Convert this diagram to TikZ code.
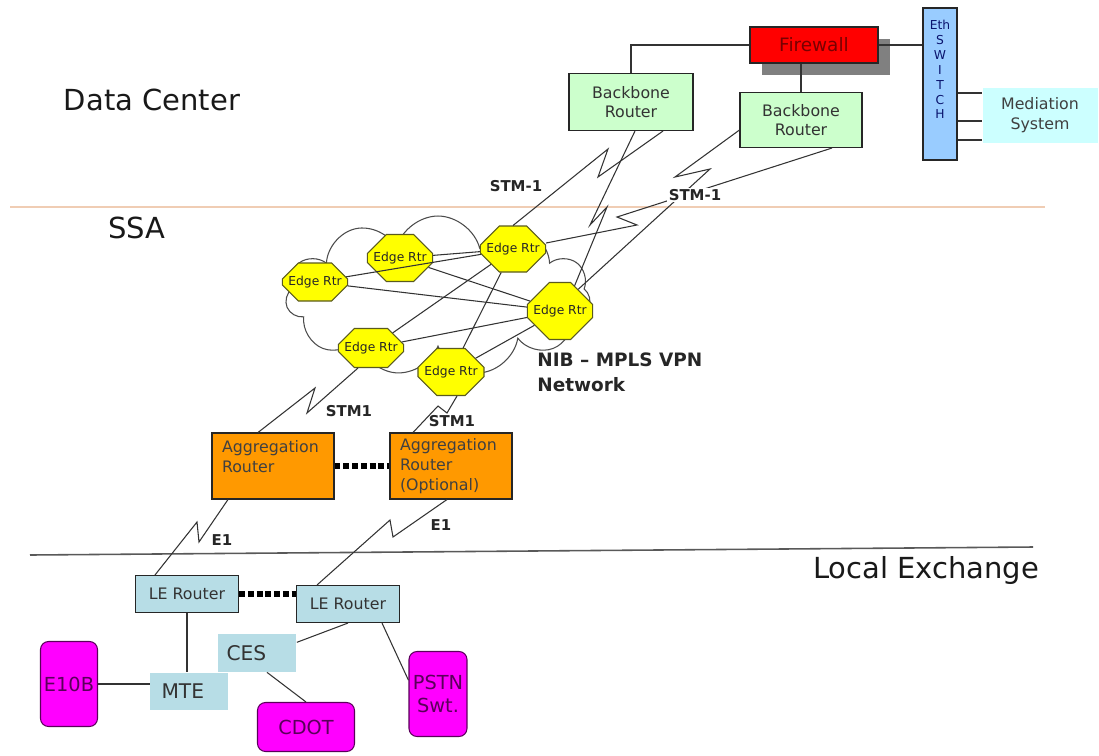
\documentclass[tikz,border=0pt]{standalone}
\usepackage{fontspec}
\setmainfont{DejaVu Sans}
\usepackage{tikz}
\usetikzlibrary{shapes.misc,shapes.symbols,shadows,calc,positioning}

\definecolor{bbgreen}{RGB}{204,255,204}
\definecolor{fwred}{RGB}{255,0,0}
\definecolor{fwtext}{RGB}{120,0,0}
\definecolor{swblue}{RGB}{153,204,255}
\definecolor{swtext}{RGB}{10,20,110}
\definecolor{medcyan}{RGB}{204,255,255}
\definecolor{rtryellow}{RGB}{255,255,0}
\definecolor{rtrborder}{RGB}{90,90,30}
\definecolor{aggorange}{RGB}{255,153,0}
\definecolor{leblue}{RGB}{183,221,230}
\definecolor{exmagenta}{RGB}{255,0,255}
\definecolor{extext}{RGB}{90,0,90}
\definecolor{sepline}{RGB}{240,205,180}

\tikzset{
  link/.style={draw=black!80, line width=0.6pt},
  box/.style={draw=black!85, line width=0.6pt, inner sep=0pt, align=center, text=black!80},
  bbrouter/.style={box, fill=bbgreen, font=\fontsize{9}{11}\selectfont},
  edgertr/.style={chamfered rectangle, chamfered rectangle xsep=#1, chamfered rectangle ysep=#1,
    draw=rtrborder, fill=rtryellow, line width=0.6pt, inner sep=0pt, text=black!85,
    font=\fontsize{7}{8}\selectfont},
  edgertr/.default=0.26cm,
  aggrouter/.style={box, fill=aggorange, minimum width=2.44cm, minimum height=1.32cm,
    text width=2.04cm, align=left, text=black!75, font=\fontsize{9}{11.3}\selectfont},
  lerouter/.style={box, fill=leblue, minimum width=2.06cm, minimum height=0.74cm,
    font=\fontsize{9}{11}\selectfont},
  lebox/.style={fill=leblue, inner sep=0pt, align=left, text=black!80, font=\fontsize{11.5}{13}\selectfont},
  exchange/.style={rounded corners=0.16cm, draw=extext, fill=exmagenta, line width=0.6pt,
    inner sep=0pt, align=center, text=extext, font=\fontsize{11}{13}\selectfont},
  region/.style={font=\fontsize{16.5}{20}\selectfont, text=black!90},
  linklabel/.style={font=\bfseries\fontsize{8.5}{10}\selectfont, inner sep=1pt, text=black!85},
  dotlink/.style={line width=3pt, dash pattern=on 3.4pt off 1.6pt, black}
}

\begin{document}
\begin{tikzpicture}[x=0.02cm, y=-0.02cm]
\useasboundingbox [fill=white] (0,0) rectangle (1099,755);

\draw [sepline, line width=0.9pt] (10,207) -- (1045,207);
\draw [black!65, line width=0.9pt] (30,555) -- (1033,547);

\node [region] (dc) at (152,100) {Data Center};
\node [region] (ssa) at (137,228) {SSA};
\node [region] (lex) at (926,570) {Local Exchange};

\node [box, fill=fwred, minimum width=2.56cm, minimum height=0.72cm, text=fwtext,
  font=\fontsize{10.5}{12}\selectfont,
  drop shadow={shadow xshift=0.24cm, shadow yshift=-0.24cm, fill=gray, opacity=1}] (fw) at (814,45) {Firewall};
\node [bbrouter, minimum width=2.48cm, minimum height=1.14cm] (bb1) at (631,102) {Backbone\\Router};
\node [bbrouter, minimum width=2.44cm, minimum height=1.1cm] (bb2) at (801,120) {Backbone\\Router};
\node [box, fill=swblue, minimum width=0.68cm, minimum height=3.04cm, text=swtext,
  font=\fontsize{7}{8.5}\selectfont] (sw) at (940,84) {Eth\\S\\W\\I\\T\\C\\H\\[8pt]};
\node [fill=medcyan, minimum width=2.3cm, minimum height=1.1cm, inner sep=0pt, align=center,
  text=black!75, font=\fontsize{9}{11.3}\selectfont] (med) at (1040,115) {Mediation\\System};

\draw [link] (bb1.north) |- (fw.west);
\draw [link] (bb2.north) -- (bb2.north |- fw.south);
\draw [link] (fw.east) -- (fw.east -| sw.west);
\foreach \dy in {9,37,56}
  \draw [link] ($(sw.east)+(0,\dy)$) coordinate (m) -- (m -| med.west);

\node [cloud, cloud puffs=11, cloud ignores aspect, minimum width=6.1cm, minimum height=3.2cm,
  draw=black!70, line width=0.6pt, fill=white] (nib) at (438,296) {};

\node [edgertr=0.2cm, minimum width=1.12cm, minimum height=0.76cm] (er1) at (315,282) {Edge Rtr};
\node [edgertr, minimum width=1.12cm, minimum height=0.94cm] (er2) at (400,258) {Edge Rtr};
\node [edgertr, minimum width=1.14cm, minimum height=0.92cm] (er3) at (513,249) {Edge Rtr};
\node [edgertr=0.32cm, minimum width=1.12cm, minimum height=1.14cm] (er4) at (560,311) {Edge Rtr};
\node [edgertr=0.2cm, minimum width=1.14cm, minimum height=0.78cm] (er5) at (371,348) {Edge Rtr};
\node [edgertr, minimum width=1.32cm, minimum height=0.94cm] (er6) at (451,372) {Edge Rtr};

\draw [link] (er2) -- (er3);
\draw [link] (er1) -- (er3);
\draw [link] (er2) -- (er4);
\draw [link] (er1) -- (er4);
\draw [link] (er5) -- (er4);
\draw [link] (er5) -- (er3);
\draw [link] (er6) -- (er3);
\draw [link] (er6) -- (er4);

\node [font=\bfseries\fontsize{10.5}{14}\selectfont, align=left, anchor=west, inner sep=0pt,
  text=black!85] (nibl) at (537,372) {NIB -- MPLS VPN\\Network};

\draw [link] (er3.north) -- (608,149) -- (598,177) -- ($(bb1.south)+(32,0)$);
\draw [link] (er4.60) -- (607,207) -- (590,225) -- ($(bb1.south)+(4,0)$);
\draw [link] (er4.50) -- (710,169) -- (675,177) -- ($(bb2.west)+(0,10)$);
\draw [link] ($(er3.east)+(0,-6)$) -- (637,225) -- (617,217) -- ($(bb2.south)+(31,0)$);
\node [linklabel] (stm1a) at (516,186) {STM-1};
\node [linklabel, fill=white] (stm1b) at (695,195) {STM-1};

\node [aggrouter] (ar1) at (273,466) {Aggregation\\Router\\\mbox{}};
\node [aggrouter] (ar2) at (451,466) {Aggregation\\Router\\(Optional)};
\draw [dotlink] (ar1.east) -- (ar2.west);

\draw [link] ($(er5.south)+(-13,0)$) -- (307,413) -- (315,388) -- ($(ar1.north)+(-15,0)$);
\draw [link] ($(er6.south)+(6,0)$) -- (447,413) -- (438,406) -- ($(ar2.north)+(-38,0)$);
\node [linklabel] (stm1c) at (349,411) {STM1};
\node [linklabel] (stm1d) at (452,421) {STM1};

\node [lerouter] (le1) at (187,594) {LE Router};
\node [lerouter] (le2) at (348,604) {LE Router};
\draw [dotlink] (le1.east) -- (le1.east -| le2.west);

\draw [link] ($(le1.north)+(-32,0)$) -- (197,522) -- (199,542) -- ($(ar1.south)+(-45,0)$);
\draw [link] ($(le2.north)+(-31,0)$) -- (390,520) -- (393,537) -- ($(ar2.south)+(-4,0)$);
\node [linklabel] (e1a) at (222,540) {E1};
\node [linklabel] (e1b) at (441,525) {E1};

\node [lebox, minimum width=1.58cm, minimum height=0.76cm, text width=1.22cm] (ces) at (257,653) {CES};
\node [lebox, minimum width=1.56cm, minimum height=0.74cm, text width=1.1cm] (mte) at (189,691) {MTE};
\node [exchange, minimum width=1.14cm, minimum height=1.7cm] (e10b) at (69,684) {E10B};
\node [exchange, minimum width=1.94cm, minimum height=0.98cm] (cdot) at (306,727) {CDOT};
\node [exchange, minimum width=1.16cm, minimum height=1.7cm] (pstn) at (438,694) {PSTN\\Swt.};

\draw [link] (le1.south) -- (le1.south |- mte.north);
\draw [link] (e10b.east) -- (e10b.east -| mte.west);
\draw [link] (le2.south) -- (ces.15);
\draw [link] ($(ces.south)+(10,0)$) -- (cdot.north);
\draw [link] ($(le2.south)+(34,0)$) -- (pstn.155);
\end{tikzpicture}
\end{document}
